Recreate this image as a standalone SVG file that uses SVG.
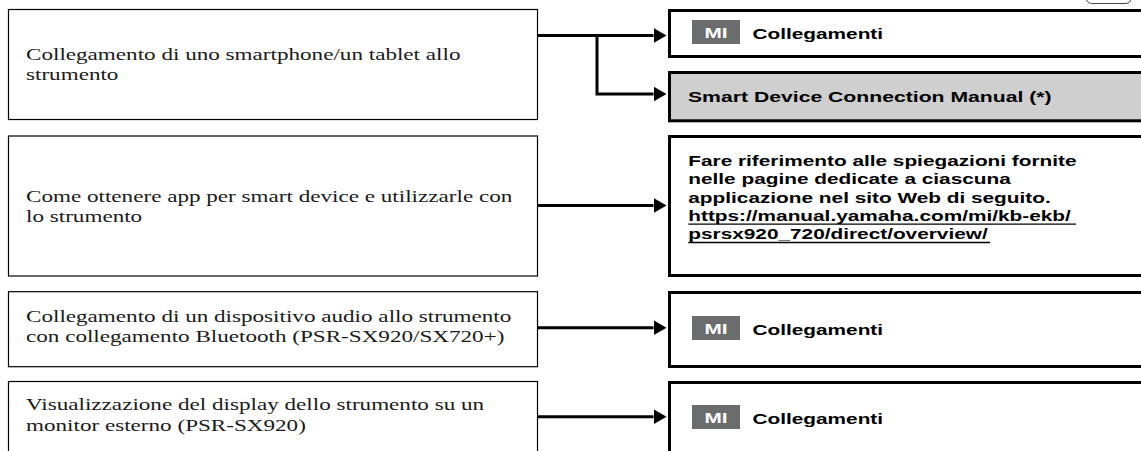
<svg xmlns="http://www.w3.org/2000/svg" width="1141" height="451" viewBox="0 0 1141 451">
<style>
.lb{fill:#fff;stroke:#000;stroke-width:1.2}
.rb{fill:#fff;stroke:#000;stroke-width:3}
.gb{fill:#cfcfcf;stroke:#000;stroke-width:3}
.s{font-family:"Liberation Serif","Times New Roman",serif;font-size:17px;fill:#1a1a1a}
.b{font-family:"Liberation Sans",Arial,sans-serif;font-weight:bold;font-size:15.3px;fill:#000}
.mi{fill:#6b6c6e}
.mt{font-family:"Liberation Sans",Arial,sans-serif;font-weight:bold;font-size:15.3px;fill:#fff}
.c{fill:none;stroke:#000;stroke-width:3}
.ul{stroke:#000;stroke-width:1.3}
</style>
<defs>
<marker id="ah" markerUnits="userSpaceOnUse" markerWidth="14" markerHeight="16" refX="0" refY="7.5" orient="auto">
<path d="M0,0 L13,7.5 L0,15 z" fill="#000"/>
</marker>
</defs>
<rect x="0" y="0" width="1141" height="451" fill="#fff"/>
<g id="tab">
<rect x="1086.5" y="-20" width="44.5" height="23.5" rx="5" fill="#fff" stroke="#444" stroke-width="1"/>
</g>
<g id="n1">
<rect class="lb" x="8.5" y="9.5" width="529" height="110"/>
<text class="s" transform="translate(26 59.5) scale(1.36 1)">Collegamento di uno smartphone/un tablet allo</text>
<text class="s" transform="translate(26 80.3) scale(1.36 1)">strumento</text>
</g>
<g id="n2">
<rect class="lb" x="8.5" y="136" width="529" height="140"/>
<text class="s" transform="translate(26 201.5) scale(1.36 1)">Come ottenere app per smart device e utilizzarle con</text>
<text class="s" transform="translate(26 222.3) scale(1.36 1)">lo strumento</text>
</g>
<g id="n3">
<rect class="lb" x="8.5" y="291.7" width="529" height="75"/>
<text class="s" transform="translate(26 321.6) scale(1.36 1)">Collegamento di un dispositivo audio allo strumento</text>
<text class="s" transform="translate(26 342.4) scale(1.36 1)">con collegamento Bluetooth (PSR-SX920/SX720+)</text>
</g>
<g id="n4">
<rect class="lb" x="8.5" y="381.5" width="529" height="90"/>
<text class="s" transform="translate(26 410) scale(1.36 1)">Visualizzazione del display dello strumento su un</text>
<text class="s" transform="translate(26 430.7) scale(1.36 1)">monitor esterno (PSR-SX920)</text>
</g>
<g id="r1">
<rect class="rb" x="669.5" y="10.5" width="490" height="46"/>
<rect class="mi" x="692" y="20" width="48" height="24"/>
<text class="mt" text-anchor="middle" transform="translate(716 37.8) scale(1.36 1)">MI</text>
<text class="b" transform="translate(752.5 38.5) scale(1.36 1)">Collegamenti</text>
</g>
<g id="r2">
<rect class="gb" x="669.5" y="72.5" width="490" height="48.3"/>
<text class="b" transform="translate(688 101.5) scale(1.385 1)">Smart Device Connection Manual (*)</text>
</g>
<g id="r3">
<rect class="rb" x="669.5" y="136.5" width="490" height="139"/>
<text class="b" transform="translate(688.3 166) scale(1.36 1)">Fare riferimento alle spiegazioni fornite</text>
<text class="b" transform="translate(688.3 184.3) scale(1.36 1)">nelle pagine dedicate a ciascuna</text>
<text class="b" transform="translate(688.3 202.5) scale(1.36 1)">applicazione nel sito Web di seguito.</text>
<text class="b" transform="translate(688.3 220.8) scale(1.36 1)">https://manual.yamaha.com/mi/kb-ekb/</text>
<text class="b" transform="translate(688.3 239.1) scale(1.36 1)">psrsx920_720/direct/overview/</text>
<line class="ul" x1="688.3" y1="224.2" x2="1076" y2="224.2"/>
<line class="ul" x1="688.3" y1="242.5" x2="990" y2="242.5"/>
</g>
<g id="r4">
<rect class="rb" x="669.5" y="292.5" width="490" height="74"/>
<rect class="mi" x="692" y="316" width="48" height="24"/>
<text class="mt" text-anchor="middle" transform="translate(716 333.8) scale(1.36 1)">MI</text>
<text class="b" transform="translate(752.5 334.5) scale(1.36 1)">Collegamenti</text>
</g>
<g id="r5">
<rect class="rb" x="669.5" y="382.5" width="490" height="90"/>
<rect class="mi" x="692" y="405" width="48" height="24"/>
<text class="mt" text-anchor="middle" transform="translate(716 422.8) scale(1.36 1)">MI</text>
<text class="b" transform="translate(752.5 423.5) scale(1.36 1)">Collegamenti</text>
</g>
<g id="connectors">
<path class="c" d="M537.5,35.5 H653.5" marker-end="url(#ah)"/>
<path class="c" d="M597,35.5 V94 H653.5" marker-end="url(#ah)"/>
<path class="c" d="M537.5,205.5 H653.5" marker-end="url(#ah)"/>
<path class="c" d="M537.5,327.7 H653.5" marker-end="url(#ah)"/>
<path class="c" d="M537.5,416.7 H653.5" marker-end="url(#ah)"/>
</g>
</svg>
